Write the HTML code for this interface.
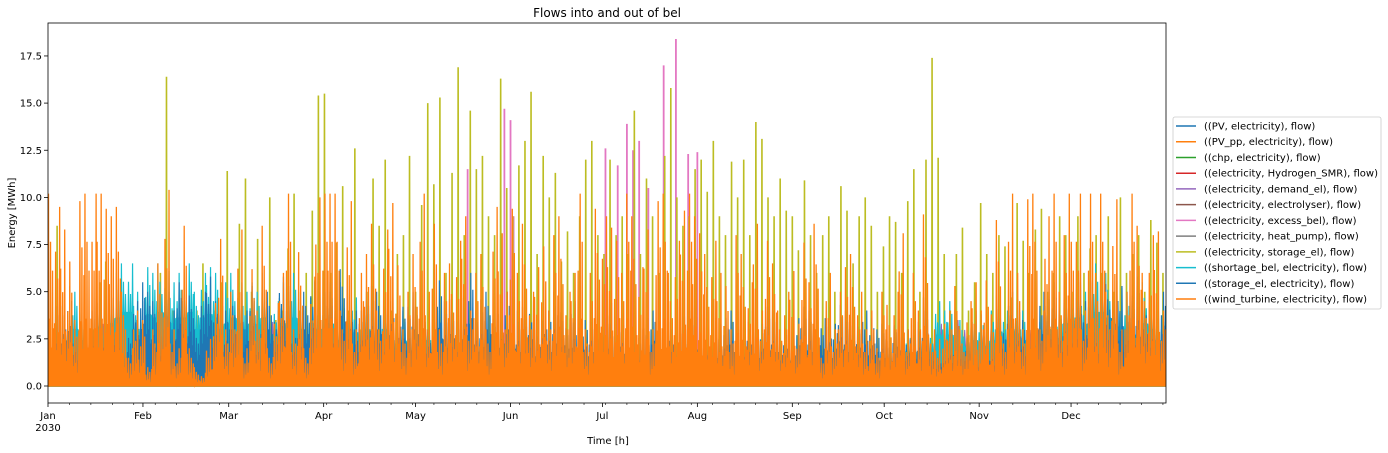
<!DOCTYPE html>
<html><head><meta charset="utf-8">
<style>
html,body{margin:0;padding:0;background:#fff;}
svg{display:block;font-family:"DejaVu Sans","Liberation Sans",sans-serif;}
</style></head>
<body>
<svg id="chart" width="1388" height="453" viewBox="0 0 1388 453" xmlns="http://www.w3.org/2000/svg">
<text x="607" y="17" font-size="12" text-anchor="middle">Flows into and out of bel</text>
<g id="plot"></g>
<g id="axes"></g>
<text x="608" y="444" font-size="10" text-anchor="middle">Time [h]</text>
<text transform="translate(15,213) rotate(-90)" font-size="10" text-anchor="middle">Energy [MWh]</text>
<g id="legend"></g>
</svg>
<script>
const monthLabels=["Jan","Feb","Mar","Apr","May","Jun","Jul","Aug","Sep","Oct","Nov","Dec"];
const monthStartDays=[0,31,59,90,120,151,181,212,243,273,304,334];
const yTicks=[0,2.5,5,7.5,10,12.5,15,17.5];
const seriesNames=["((PV, electricity), flow)","((PV_pp, electricity), flow)","((chp, electricity), flow)","((electricity, Hydrogen_SMR), flow)","((electricity, demand_el), flow)","((electricity, electrolyser), flow)","((electricity, excess_bel), flow)","((electricity, heat_pump), flow)","((electricity, storage_el), flow)","((shortage_bel, electricity), flow)","((storage_el, electricity), flow)","((wind_turbine, electricity), flow)"];
const windVals=[10.2,9.5,8.3,6.6,3.5,9.8,10.2,10.2,10.2,9.4,9,9.5,5,2,4,3.5,
1,3,6.5,10.4,3,2,8.5,2,1,0.7,2.5,4.4,7.8,3,
5,8.3,2,6.2,4,8.5,2,4.4,6,10.2,3,7.1,2,5.8,10,
10.2,10.2,10.2,4,9.8,3,6,7,8.6,4,8.3,9.7,6.4,3,5,
7,10.2,5,8.6,3,6,6.5,7.7,9,4,6,7,3,9.5,8.1,5,
9.4,6,8.6,5,6.3,7.4,4,8,9,5,6,10.2,3,6,9.4,
9,8.4,7.7,6,10.2,9,6.3,8.3,3,9.8,10.2,6,7.7,9.3,10.2,9,
8.1,7,7.7,6,5.3,3,8,7,5.5,8.6,4,7.7,6.5,4,5,
6.1,3.3,7.6,5.5,8.6,2,6,3,5,6.3,7,5,3,4,2,
5,4.3,5,8.1,3,6,4,9.1,3,2.5,3.3,4,5.3,3,4.5,5.5,
4,5.6,3.8,8.8,3,10.2,6,3,9.9,10.2,4,9,10.2,5,8,
10.2,10.2,4,10.2,6,10.2,5,9.9,3,5,10.2,8.5,6,8,8.2,4];
const storageOutVals=[2,5,5,5.3,3,2,0.5,4.7,1,4.5,4.8,4.5,2,3,4.5,5.5,
5,4.5,3.5,5,4,5.5,5,4.8,3,5,5.8,4.5,4,4,
5,3.5,4,5.3,3,5,5,4,5.8,5.3,3,4.6,5,5.6,4,
3.3,5,4,6.2,5.5,4,4,4.5,5.3,5,4,6,3,4.2,4.2,
5,4,3.8,4,5.6,4.5,4.6,4,5.5,6,4,4.6,5,4.2,4.5,5,
4.4,4,4.2,4.5,3.5,4.6,4,5,4.6,3.6,4.5,4,3.5,4,3.3,
3.6,4.4,3,3.8,3.3,4,3,3.6,4,3.3,3.8,4,2.8,3.7,4,4.3,
3.4,3.6,3,3.3,3.6,4,2.8,3.4,4,3.8,3.3,4.2,4,3,3.6,
3,3.6,4.2,4,3,3.6,4.2,3.3,4.3,4,3.2,3.7,4,3.6,3,
3.3,2.4,3.8,4.2,2.9,3.2,3.4,4.7,2.4,2,2.2,2.7,3,2.4,3.1,2,
2.2,3,2.4,4,3.3,5,4,3.5,4.5,3,5,4.6,5.5,4,4.8,
5,5.5,4.5,5.6,3.8,4.5,5.4,6,5.3,4,4.8,5.8,5,4.5,3.6,5];
const storageInVals=[0,8.5,2,0,0,0,0,3,5.5,6.6,3,2,1,0,0,0,
1,2,6,16.4,4,1,3,2,4,6.5,3,4,5.5,11.4,
3,8.6,11,5,7.8,2,10,3.5,4,7.3,10.2,4,6,9.3,15.4,
15.5,6,7.6,10.6,4,12.6,3,5,11,8.5,12,4,7,8,12.2,
5,9.6,15,10.7,15.3,6,11.3,16.9,8,14.6,11.5,12.2,9,8,16.3,10.5,
9,11.7,13,15.6,7,12.2,10,11.3,6.6,8.2,6,9,12,13,8,
7,12,8,9,7,14.6,7,11,9,6,12.2,15.8,10,8.5,9,11.5,
12,10.3,13,9,8,11.9,10,12,8,14,13.1,10,9,11,9.3,
9,7.2,10.9,8,6,8,9,5,10.6,9.3,6.5,9,10,8.5,5,
7.4,9,8.7,6,9.8,11.5,5,12,17.4,12.1,7,4,7,8.4,4,5.5,
9.7,7,6,8,7.4,4.7,9.7,7.7,6,8.3,9.4,5,6,9,8,
5,9,6,7.3,8,6,9,5,10,6,7,8,5,8.8,7.6,6];
const shortageVals=[0,3,3,4,5,4,2,2,5.2,4,5.5,6,6.5,6.5,5,4.5,
6.3,6,6.5,6.1,5.5,6,6,6.5,5,6,6.3,6,5,5.5,
6,5.5,5,5.5,5,6,4,4.5,5.5,5,6,5,4,5.5,5,
5,5.5,4,5.5,5,4.7,4,5,4,3.5,5,4,3,4,3,
3.5,3,4,3,4,3,3,2.5,3,2.5,3,3,2.5,2,2,2,
2,2,2,2,2,2,2,2,2,2,2,2,2,2,2,
2,2,2,2,2,2,2,2,2,2,2,2,2,2,2,2,
2,2,2,2,2,2,2,2,2,2,2,2,2,2,2,
2,2,2,2,2,2,2,2,2,2,2,2,2,2,2,
2,2,2,2,3,2.5,3,3,3,4.5,4,4.5,4,3.5,3,4,
3.8,3.5,4,4.8,4,5,4.6,4,3,3.5,4,5,4.8,4.2,5.5,
5.5,6,5,5.5,6.5,6.5,6,5,5.2,5,4.5,4,5.5,5,4,4];
const excessDays=[137,149,151,152,182,186,189,191,193,196,201,205,209,212];
const excessVals=[11.5,14.7,14.1,9,12.6,11.7,13.9,12.5,13,10.5,17,18.4,12.3,12.4];
const demandVals=[3.4,3.4,3.3,3.5,3.5,3.3,3.4,3.6,3.4,3.5,3.3,3.4,3.2,3.4,3.1,3.3,3.2,3.0,3.0,2.8,0,0,0,0,0,0,0,0,0,0,0,0,0,0,0,0,0,0,0,0,0,0,0,0,3.3,3.5,3.4,3.6,3.4,3.5,3.2,3.4,3.5,3.3,3.4,3.2];

const X0=48,X1=1166,Y0=386,PXU=18.86;
const NS="http://www.w3.org/2000/svg";
const SUB_WIND=[1,0.35,0.75,0.2,0.6,0.3];
const SUB_STD=[1,0.6,0.85,0.45,0.75,0.55];
function xs(day){return X0+day*(X1-X0)/365;}
function ys(v){return Y0-v*PXU;}
function mk(tag,attrs,parent){const e=document.createElementNS(NS,tag);for(const k in attrs)e.setAttribute(k,attrs[k]);parent.appendChild(e);return e;}
const plot=document.getElementById('plot');
const axes=document.getElementById('axes');
const legend=document.getElementById('legend');
const clip=mk('clipPath',{id:'pc'},document.getElementById('chart'));
mk('rect',{x:X0,y:23,width:X1-X0,height:380},clip);
plot.setAttribute('clip-path','url(#pc)');
const colors=["#1f77b4","#ff7f0e","#2ca02c","#d62728","#9467bd","#8c564b","#e377c2","#7f7f7f","#bcbd22","#17becf","#1f77b4","#ff7f0e"];

function zig(vals,span,narrow,base,sub){
  const step=span/vals.length;let d="M"+xs(0)+","+ys(0);
  vals.forEach((v,i)=>{
    const t=i*step;
    if(narrow){d+=" L"+xs(t+step*0.45)+","+ys(0)+" L"+xs(t+step*0.5)+","+ys(v)+" L"+xs(t+step*0.55)+","+ys(0);}
    else{
      const n=sub.length,s=step/n;
      for(let k=0;k<n;k++){
        const f=sub[(k+i)%n];
        d+=" L"+xs(t+k*s+s*0.15)+","+ys(v*base)+" L"+xs(t+k*s+s*0.5)+","+ys(v*f)+" L"+xs(t+k*s+s*0.85)+","+ys(v*base);
      }
    }
  });
  d+=" L"+xs(span)+","+ys(0)+" Z";return d;
}
mk('line',{x1:X0,x2:X1,y1:ys(0),y2:ys(0),stroke:"#2ca02c","stroke-width":1.5},plot);
let p;
p=mk('path',{d:zig(demandVals,365,false,0.5,SUB_STD),fill:"#9467bd",stroke:"#9467bd","stroke-width":1},plot);


excessDays.forEach((dd,i)=>{
  const l=mk('line',{x1:xs(dd),x2:xs(dd),y1:ys(0),y2:ys(excessVals[i]),stroke:"#e377c2","stroke-width":1.8},plot);
  
  
});
p=mk('path',{d:zig(storageInVals,365,true,0),fill:"#bcbd22",stroke:"#bcbd22","stroke-width":1.6},plot);


p=mk('path',{d:zig(shortageVals,365,false,0.6,SUB_STD),fill:"#17becf",stroke:"#17becf","stroke-width":1.2},plot);


p=mk('path',{d:zig(storageOutVals,365,false,0.3,SUB_STD),fill:"#1f77b4",stroke:"#1f77b4","stroke-width":1.2},plot);


p=mk('path',{d:zig(windVals,365,false,0.03,SUB_WIND),fill:"#ff7f0e",stroke:"#ff7f0e","stroke-width":1.3},plot);



mk('rect',{x:X0,y:23,width:X1-X0,height:380,fill:"none",stroke:"#000","stroke-width":0.8},axes);
yTicks.forEach(v=>{
  mk('line',{x1:X0-4,x2:X0,y1:ys(v),y2:ys(v),stroke:"#000","stroke-width":0.8},axes);
  const t=mk('text',{x:X0-6,y:ys(v)+3.5,"font-size":10,"text-anchor":"end"},axes);
  t.textContent=v.toFixed(1);
  
  
});
for(let d=7;d<365;d+=7){mk('line',{x1:xs(d),x2:xs(d),y1:403,y2:405,stroke:"#000","stroke-width":0.6},axes);}
monthStartDays.forEach((d,i)=>{
  mk('line',{x1:xs(d),x2:xs(d),y1:403,y2:407,stroke:"#000","stroke-width":0.8},axes);
  const t=mk('text',{x:xs(d),y:419,"font-size":10,"text-anchor":"middle"},axes);
  t.textContent=monthLabels[i];
  
  
});
const yr=mk('text',{x:xs(0),y:431,"font-size":10,"text-anchor":"middle"},axes);
yr.textContent="2030";



mk('rect',{x:1173,y:117,width:208,height:192,fill:"#fff",stroke:"#ccc","stroke-width":0.8,rx:2},legend);
seriesNames.forEach((n,i)=>{
  const y=126+i*15.73;
  const g=mk('g',{},legend);
  
  
  mk('line',{x1:1176,x2:1196,y1:y,y2:y,stroke:colors[i],"stroke-width":1.5},g);
  const t=mk('text',{x:1204,y:y+3.5,"font-size":10},g);
  t.textContent=n;
});
</script>
</body></html>
